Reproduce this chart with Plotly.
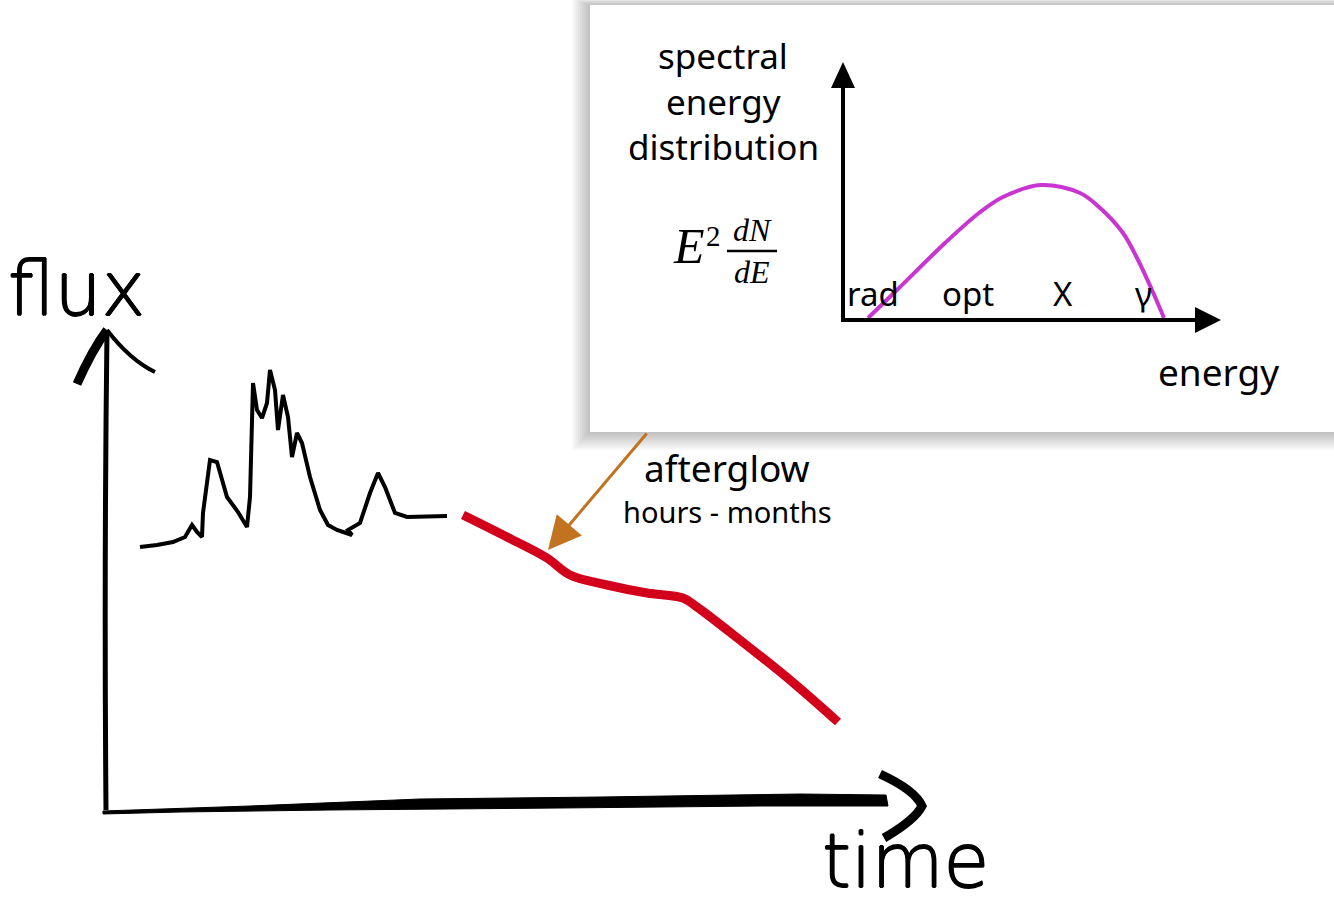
import plotly.graph_objects as go

# ---- data (in page units) ----
burst_t = [140, 157, 173, 185, 192, 197, 202, 203, 210, 217, 227, 238, 247, 250, 253, 257, 262, 267, 270,
           275, 278, 283, 288, 292, 297, 302, 310, 320, 328, 337, 352, 348, 360, 370, 378, 385, 395, 407, 447]
burst_flux = [547, 545, 542, 537, 525, 532, 537, 513, 460, 462, 497, 512, 527, 497, 383, 410, 418, 403, 370,
              390, 430, 395, 417, 457, 433, 443, 477, 510, 525, 530, 535, 530, 523, 493, 473, 487, 513, 517, 516]

afterglow_t = [463, 507, 547, 570, 607, 647, 683, 697, 740, 790, 838]
afterglow_flux = [515, 537, 558, 575, 585, 593, 598, 607, 640, 680, 722]

sed_energy = [868, 897, 945, 979, 1003, 1041, 1080, 1099, 1123, 1138, 1152, 1164]
sed_value = [318, 290, 243, 213, 197, 185, 193, 207, 233, 260, 290, 318]

band_labels = ["rad", "opt", "X", "γ"]
band_pos = [873, 968, 1063, 1143]

W, H = 1334, 909
fig = go.Figure()

SANS = "Noto Sans, DejaVu Sans, sans-serif"
SERIF = "Liberation Serif, DejaVu Serif, serif"
HAND = "DejaVu Sans ExtraLight, DejaVu Sans Light, Noto Sans, sans-serif"
THICK = "0.8px 0 0 black, -0.8px 0 0 black, 0 0.8px 0 black, 0 -0.8px 0 black"

shapes = []
# inset panel shadow (soft layers)
for i in range(9):
    d = 18 - 2 * i
    shapes.append(dict(type="rect", xref="x", yref="y", x0=590 - d, x1=W + 40, y0=5 - d * 0.4, y1=432 + d,
                       fillcolor="rgba(0,0,0,0.028)", line=dict(width=0), layer="below"))
shapes.append(dict(type="rect", xref="x", yref="y", x0=590, x1=W + 40, y0=5, y1=432,
                   fillcolor="white", line=dict(width=0), layer="below"))

# hand-drawn flux axis
shapes.append(dict(type="path", xref="x", yref="y", path="M 106 810 Q 104 570 107 330",
                   line=dict(color="black", width=5)))
shapes.append(dict(type="path", xref="x", yref="y", path="M 107 330 Q 92 350 77 384",
                   line=dict(color="black", width=9)))
shapes.append(dict(type="path", xref="x", yref="y", path="M 107 330 Q 130 360 155 372",
                   line=dict(color="black", width=4)))
# hand-drawn time axis (tapered brush stroke)
shapes.append(dict(type="path", xref="x", yref="y",
                   path="M 103 811 L 250 806 L 420 799 L 600 797 L 800 794 L 886 795 "
                        "L 888 806 L 760 806 L 560 808 L 330 810 L 180 812 L 103 814 Z",
                   fillcolor="black", line=dict(color="black", width=1)))
shapes.append(dict(type="path", xref="x", yref="y", path="M 880 774 Q 915 790 922 806 Q 915 820 884 838",
                   line=dict(color="black", width=9)))

# inset axes
shapes.append(dict(type="line", xref="x", yref="y", x0=843, x1=843, y0=322, y1=86,
                   line=dict(color="black", width=4)))
shapes.append(dict(type="path", xref="x", yref="y", path="M 831 88 L 843 62 L 855 88 Z",
                   fillcolor="black", line=dict(width=0)))
shapes.append(dict(type="line", xref="x", yref="y", x0=841, x1=1198, y0=320, y1=320,
                   line=dict(color="black", width=4)))
shapes.append(dict(type="path", xref="x", yref="y", path="M 1195 307 L 1221 320 L 1195 333 Z",
                   fillcolor="black", line=dict(width=0)))
# fraction bar
shapes.append(dict(type="line", xref="x", yref="y", x0=727, x1=777, y0=251, y1=251,
                   line=dict(color="black", width=2.5)))

fig.add_trace(go.Scatter(x=burst_t, y=burst_flux, mode="lines",
                         line=dict(color="black", width=4), hoverinfo="skip"))
fig.add_trace(go.Scatter(x=afterglow_t, y=afterglow_flux, mode="lines", line_shape="spline",
                         line=dict(color="#d2001a", width=9), hoverinfo="skip"))
fig.add_trace(go.Scatter(x=sed_energy, y=sed_value, mode="lines", line_shape="spline",
                         line=dict(color="#c935d0", width=4), hoverinfo="skip"))

ann = []
def txt(x, y, t, size, font=SANS, color="black", shadow=None):
    f = dict(family=font, size=size, color=color)
    if shadow:
        f["shadow"] = shadow
    ann.append(dict(x=x, y=y, xref="x", yref="y", text=t, showarrow=False, font=f,
                    xanchor="center", yanchor="middle"))

txt(76, 289, "flux", 74, font=HAND, shadow=THICK)
txt(905, 861, "time", 74, font=HAND, shadow=THICK)
txt(727, 467, "afterglow", 37)
txt(727, 511, "hours - months", 29)
txt(723, 55, "spectral", 35)
txt(723, 101, "energy", 35)
txt(723, 146, "distribution", 35)
txt(1218, 371, "energy", 37)
for lab, p in zip(band_labels, band_pos):
    txt(p, 293, lab, 33)
txt(689, 246, "<i>E</i>", 50, font=SERIF)
txt(713, 236, "2", 29, font=SERIF)
txt(752, 230, "<i>dN</i>", 32, font=SERIF)
txt(752, 272, "<i>dE</i>", 32, font=SERIF)

ann.append(dict(x=548, y=550, xref="x", yref="y", ax=648, ay=432, axref="x", ayref="y",
                text="", showarrow=True, arrowhead=2, arrowsize=2.2, arrowwidth=3,
                arrowcolor="#c2731f"))

fig.update_layout(
    width=W, height=H, margin=dict(l=0, r=0, t=0, b=0),
    paper_bgcolor="white", plot_bgcolor="white", showlegend=False,
    xaxis=dict(range=[0, W], visible=False, fixedrange=True),
    yaxis=dict(range=[H, 0], visible=False, fixedrange=True),
    shapes=shapes, annotations=ann,
)
fig.write_html("out.html", config={"displayModeBar": False},
               post_script="document.body.style.margin='0';document.body.style.overflow='hidden';")
